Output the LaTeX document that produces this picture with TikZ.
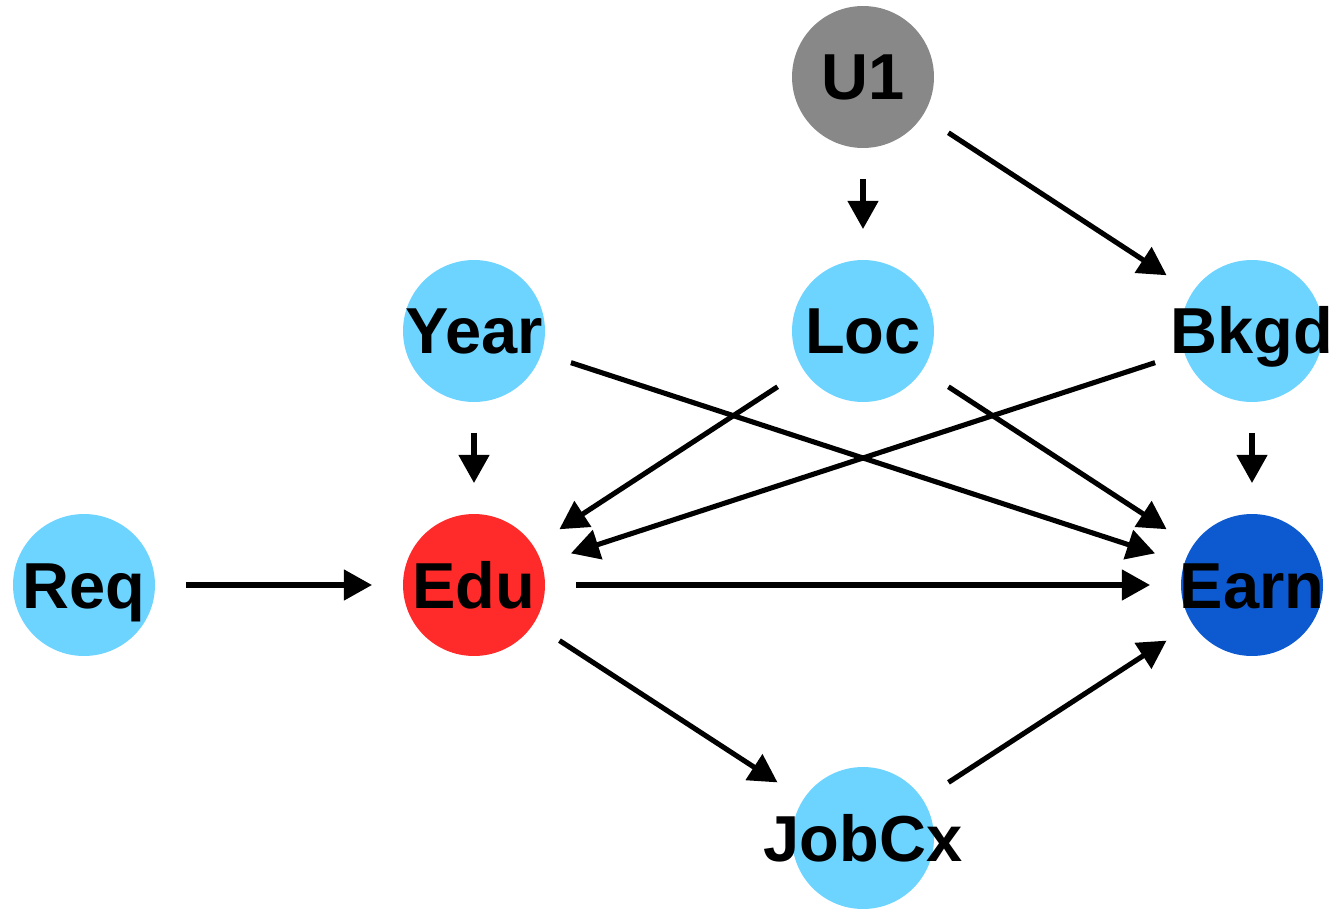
\documentclass[tikz,border=0pt]{standalone}
\usepackage{fontspec}
\setmainfont{Liberation Sans}
\usetikzlibrary{arrows.meta}

\definecolor{varblue}{RGB}{109,211,255}
\definecolor{trtred}{RGB}{255,42,42}
\definecolor{outblue}{RGB}{13,90,208}
\definecolor{latgray}{RGB}{136,136,136}

\begin{document}
\begin{tikzpicture}[x=0.02cm, y=-0.02cm,
  var/.style={circle, fill=#1, minimum size=2.84cm, inner sep=0pt, outer sep=0.62cm},
  lbl/.style={font=\fontsize{37}{40}\selectfont\bfseries, inner sep=0pt, anchor=base, yshift=-0.46cm},
  edge/.style={-{Triangle[length=16pt,width=17pt]}, line width=2.9pt}]
  \useasboundingbox (0,0) rectangle (1335,909);
  % variables
  \node [var=latgray] (u1) at (863,77) {};
  \node [var=varblue] (year) at (474,331) {};
  \node [var=varblue] (loc) at (863,331) {};
  \node [var=varblue] (bkgd) at (1252,331) {};
  \node [var=varblue] (req) at (84,585) {};
  \node [var=trtred] (edu) at (474,585) {};
  \node [var=outblue] (earn) at (1252,585) {};
  \node [var=varblue] (jobcx) at (863,838) {};
  \node [lbl] at (u1) {U1};
  \node [lbl] at (year) {Year};
  \node [lbl] at (loc) {Loc};
  \node [lbl] at (bkgd) {Bkgd};
  \node [lbl] at (req) {Req};
  \node [lbl] at (edu) {Edu};
  \node [lbl] at (earn) {Earn};
  \node [lbl] at (jobcx) {JobCx};
  % edges
  \draw [edge] (u1) -- (loc);
  \draw [edge] (u1) -- (bkgd);
  \draw [edge] (year) -- (edu);
  \draw [edge] (year) -- (earn);
  \draw [edge] (loc) -- (edu);
  \draw [edge] (loc) -- (earn);
  \draw [edge] (bkgd) -- (edu);
  \draw [edge] (bkgd) -- (earn);
  \draw [edge] (req) -- (edu);
  \draw [edge] (edu) -- (earn);
  \draw [edge] (edu) -- (jobcx);
  \draw [edge] (jobcx) -- (earn);
\end{tikzpicture}
\end{document}
